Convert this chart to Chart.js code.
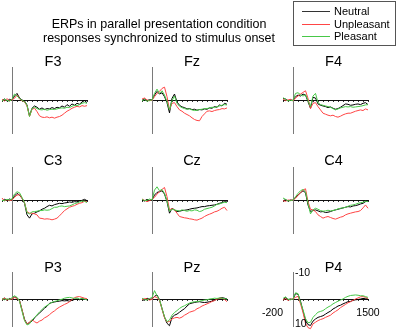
<!DOCTYPE html>
<html><head><meta charset="utf-8">
<script src="https://cdn.jsdelivr.net/npm/chart.js@4.4.0/dist/chart.umd.min.js"></script>
<style>
html,body{margin:0;padding:0;background:#fff;}
#wrap{position:relative;width:397px;height:333px;overflow:hidden;font-family:"Liberation Sans",Arial,Helvetica,sans-serif;background:#fff;}
canvas{position:absolute;left:0;top:0;}
.t{position:absolute;white-space:nowrap;color:#000;}
#title{left:0;width:318px;top:16.6px;text-align:center;font-size:12.5px;line-height:14.7px;}
#legend{position:absolute;left:293px;top:1px;width:103px;height:45px;border:1px solid #555;background:#fff;box-sizing:border-box;}
.lg{position:absolute;left:0;height:12px;width:102px;font-size:11px;line-height:12px;}
.lg span.sw{position:absolute;left:8px;top:6px;width:28px;height:0;border-top:1px solid #000;}
.lg span.tx{position:absolute;left:40px;top:0;}
.pt{font-size:14.5px;line-height:14.5px;width:80px;text-align:center;}
</style></head><body>
<div id="wrap">
<canvas id="c0" width="397" height="333"></canvas>
<canvas id="c1" width="397" height="333"></canvas>
<canvas id="c2" width="397" height="333"></canvas>
<canvas id="c3" width="397" height="333"></canvas>
<canvas id="c4" width="397" height="333"></canvas>
<canvas id="c5" width="397" height="333"></canvas>
<canvas id="c6" width="397" height="333"></canvas>
<canvas id="c7" width="397" height="333"></canvas>
<canvas id="c8" width="397" height="333"></canvas>
<div class="t" id="title">ERPs in parallel presentation condition<br>responses synchronized to stimulus onset</div>
<div id="legend"></div>
</div>
<script>
// ---- data ----
const times = [-200,-150,-100,-50,0,50,100,150,200,250,300,350,400,450,500,550,600,650,700,750,800,850,900,950,1000,1050,1100,1150,1200,1250,1300,1350,1400,1450,1500];
const conditions = ['Neutral','Unpleasant','Pleasant'];
const channels = ['F3','Fz','F4','C3','Cz','C4','P3','Pz','P4'];
const yTickLabels = [-10, 10];
const xTickLabels = [-200, 1500];

const F3_neutral = [0.2,-0.3,0.3,-0.2,0.1,-1.2,-2.0,-0.6,0.0,0.3,1.5,4.8,2.5,1.8,2.2,2.8,2.4,2.9,2.6,2.7,2.3,2.6,2.2,2.4,1.8,2.2,1.4,1.9,1.2,1.6,1.0,1.3,0.6,0.2,0.8];
const F3_unpleasant = [-0.2,0.3,-0.4,0.2,-0.1,-0.5,-1.5,-0.3,0.2,0.6,1.8,5.0,2.8,2.5,3.5,4.8,5.2,5.3,5.1,5.4,5.2,5.5,5.2,5.0,4.6,4.0,3.4,3.0,2.5,2.2,1.9,2.1,1.7,1.9,1.7];
const F3_pleasant = [0.3,-0.2,0.1,0.4,-0.2,-1.8,-1.2,-0.5,0.1,0.5,1.6,5.0,2.6,2.2,2.6,2.9,3.0,2.8,3.1,2.9,2.8,2.9,2.7,2.5,2.4,2.5,2.2,2.3,1.9,1.6,1.7,1.4,1.0,0.8,1.0];

const Fz_neutral = [0.1,-0.3,0.2,-0.1,0.0,-1.5,-2.6,-1.8,-2.2,-1.0,0.8,3.9,-0.5,-1.8,0.6,1.6,2.1,2.3,2.7,2.6,2.9,2.8,3.1,2.9,3.0,2.7,2.8,2.4,2.5,2.0,2.2,1.5,1.8,1.0,1.3];
const Fz_unpleasant = [-0.3,-0.6,0.0,0.2,0.1,-1.0,-2.0,-2.6,-3.5,-3.9,-1.0,2.9,1.0,0.8,2.0,3.0,3.4,4.0,4.4,4.8,5.4,5.9,6.2,6.3,5.0,4.2,3.4,3.3,3.5,3.2,3.0,2.9,2.6,2.7,2.4];
const Fz_pleasant = [0.3,-0.2,0.4,0.1,0.0,-2.0,-3.3,-2.0,-2.8,-1.5,0.5,3.0,0.2,-1.2,1.0,1.9,2.3,2.6,2.8,2.7,3.0,3.2,3.1,2.9,2.8,2.6,2.6,2.4,2.2,2.3,2.0,1.8,1.6,1.4,1.5];

const F4_neutral = [-0.5,-0.3,0.2,0.0,0.1,-1.0,-1.5,-1.2,-1.8,-1.5,0.5,2.5,-0.8,-0.6,1.2,1.6,1.8,2.0,2.3,2.1,2.5,2.8,2.6,2.2,1.7,1.2,1.3,1.6,1.5,1.3,1.2,1.4,1.0,0.8,1.4];
const F4_unpleasant = [-0.3,0.2,0.0,-0.2,0.3,-0.6,-1.2,-1.8,-2.3,-2.8,-0.5,2.6,1.0,0.8,2.0,3.0,4.0,4.3,4.6,4.8,4.6,5.0,5.2,4.9,4.5,4.2,4.0,4.0,3.7,3.4,3.2,3.0,3.2,2.7,3.0];
const F4_pleasant = [-0.7,-0.2,0.3,0.1,0.2,-2.0,-2.2,-1.6,-1.2,-1.6,0.2,2.0,-1.2,-2.0,0.8,1.4,1.6,1.8,2.0,2.2,2.6,3.0,2.7,2.4,2.2,2.0,2.1,2.0,2.2,2.1,2.0,1.9,1.7,1.5,1.4];

const C3_neutral = [0.3,-0.2,0.1,-0.3,0.0,-1.2,-2.0,-1.5,-0.5,1.0,4.5,5.5,4.2,4.0,3.6,3.3,2.8,2.5,2.0,1.6,1.8,1.4,1.2,1.0,1.1,0.9,0.8,0.6,0.7,0.5,0.6,0.3,0.1,-0.2,0.2];
const C3_unpleasant = [-0.6,0.3,-0.1,0.2,0.0,-0.8,-1.5,-1.6,-0.6,0.8,3.6,4.0,4.0,4.2,4.5,5.5,5.6,5.8,5.7,5.8,6.0,5.8,5.5,4.8,4.0,3.2,2.7,2.2,1.9,1.7,1.3,1.0,0.8,0.4,0.5];
const C3_pleasant = [0.1,0.2,-0.2,0.0,-0.3,-1.8,-2.5,-2.2,-0.8,0.8,3.8,4.2,3.6,3.5,3.4,3.2,3.2,3.0,3.1,3.0,2.6,2.2,2.2,1.9,1.8,2.0,1.9,1.8,1.5,1.1,0.9,0.6,0.3,0.4,0.8];

const Cz_neutral = [0.0,0.3,-0.2,0.1,0.0,-1.5,-2.3,-2.5,-2.8,-1.8,0.5,4.0,2.5,3.0,3.5,3.4,3.2,3.1,3.0,2.8,2.6,2.5,2.4,2.2,2.0,2.0,1.8,1.7,1.6,1.5,1.3,1.0,0.8,0.5,0.6];
const Cz_unpleasant = [-0.3,0.1,0.5,0.2,-0.2,-0.8,-1.8,-2.5,-3.2,-3.8,-1.0,3.0,2.6,3.0,4.0,5.0,5.2,5.4,5.5,5.7,5.8,6.0,6.1,5.8,5.5,5.0,4.6,4.3,4.0,3.6,3.4,3.0,2.5,2.2,3.2];
const Cz_pleasant = [-0.2,0.2,0.1,-0.3,0.0,-3.0,-4.0,-2.8,-3.2,-2.0,0.3,3.4,2.8,3.0,3.2,3.3,3.0,3.2,3.4,3.2,3.3,3.0,3.1,3.5,3.3,2.8,2.6,2.4,2.2,1.8,1.3,1.2,0.9,0.7,0.8];

const C4_neutral = [0.2,-0.1,0.3,0.0,0.1,-0.8,-1.5,-2.2,-2.8,-2.2,1.5,3.5,3.2,3.0,3.3,3.6,3.5,3.8,3.7,3.5,3.2,3.0,2.8,2.6,2.4,2.2,2.0,2.1,1.8,1.7,1.5,1.2,1.0,0.5,0.3];
const C4_unpleasant = [0.2,0.4,0.0,0.1,0.0,-0.5,-1.4,-2.2,-3.0,-3.4,0.5,2.8,3.0,3.5,4.5,5.0,5.5,5.2,5.0,5.3,5.6,5.8,5.5,5.2,5.0,4.5,4.2,4.0,3.8,3.6,3.5,3.2,2.4,1.5,2.5];
const C4_pleasant = [-0.6,-0.2,0.3,0.2,0.0,-1.0,-2.0,-2.8,-3.2,-2.5,1.0,4.2,3.0,2.5,2.8,3.2,3.4,3.3,3.1,3.3,3.2,3.0,2.7,2.5,2.4,2.2,1.9,1.6,1.5,1.3,1.0,0.8,0.7,0.4,0.5];

const P3_neutral = [0.3,-0.4,0.6,-0.2,0.2,-0.8,-0.4,0.5,4.0,7.5,9.2,8.8,8.2,7.0,6.0,5.2,4.3,3.4,2.7,1.6,1.3,1.1,0.9,0.8,0.6,0.7,0.6,0.8,0.5,0.2,0.0,0.3,-0.1,0.1,0.2];
const P3_unpleasant = [0.2,-0.3,0.4,0.1,0.0,-0.6,-0.2,0.6,4.0,7.8,9.3,8.6,7.6,8.4,8.9,8.2,7.8,7.0,6.5,5.8,5.0,4.4,3.6,3.0,2.5,2.0,1.6,1.0,0.2,-0.5,-0.8,-0.9,-0.6,-0.3,-0.1];
const P3_pleasant = [-0.2,0.3,-0.1,0.2,-0.5,-1.2,-0.6,0.8,4.5,8.0,9.6,9.2,7.8,6.8,5.9,4.8,3.9,3.0,2.4,1.8,1.2,0.9,0.7,0.3,0.1,-0.3,-0.5,-0.6,-0.4,-0.2,-0.4,0.0,-0.2,0.1,0.3];

const Pz_neutral = [0.2,0.5,-0.3,0.1,0.0,-1.0,-1.5,0.3,3.5,6.8,9.0,9.9,6.8,6.0,5.6,4.9,4.2,3.6,2.6,1.8,1.5,1.3,1.1,1.0,1.2,1.3,1.2,1.0,0.8,0.5,0.0,-0.3,-0.5,-0.3,0.0];
const Pz_unpleasant = [0.3,-0.2,0.0,0.4,0.1,-0.8,-0.6,0.5,3.8,6.9,8.5,8.3,7.4,7.0,6.8,7.1,6.7,6.0,5.5,4.9,4.6,4.3,3.6,3.2,2.6,2.2,1.8,1.4,0.9,0.6,0.0,-0.2,-0.3,0.2,1.0];
const Pz_pleasant = [-0.3,0.2,0.4,-0.2,-0.5,-3.1,-1.2,0.2,3.6,6.5,8.4,7.8,6.0,5.0,4.3,3.5,2.9,2.5,2.0,1.5,1.2,1.0,1.0,0.8,0.6,0.4,0.3,0.0,-0.1,-0.3,-0.2,-0.4,-0.3,-0.1,0.0];

const P4_neutral = [0.3,-0.5,0.2,0.0,0.2,-2.0,-1.8,0.8,4.5,8.0,9.5,9.8,8.2,7.4,6.8,6.5,6.2,5.6,5.0,4.5,3.7,3.2,2.6,2.3,1.8,1.4,1.0,0.9,0.5,0.3,0.2,0.0,-0.2,-0.1,0.0];
const P4_unpleasant = [0.4,-0.2,0.5,0.1,0.0,-0.6,-1.0,1.8,5.0,9.0,10.6,11.0,9.2,8.6,8.0,7.6,7.3,6.8,6.4,6.0,5.2,4.6,4.0,3.2,2.6,2.0,1.4,1.0,0.5,0.0,-0.4,-0.8,-0.9,-0.6,-0.2];
const P4_pleasant = [-0.2,-0.8,0.1,0.3,0.0,-2.3,-2.0,1.2,4.0,7.2,8.8,8.6,6.8,5.8,4.9,4.6,4.3,3.6,3.0,2.5,1.8,1.3,0.8,0.4,0.0,-0.6,-1.0,-1.3,-1.4,-1.5,-1.4,-1.2,-1.2,-0.9,-0.6];

const channelData = {
  F3: [F3_neutral, F3_unpleasant, F3_pleasant],
  Fz: [Fz_neutral, Fz_unpleasant, Fz_pleasant],
  F4: [F4_neutral, F4_unpleasant, F4_pleasant],
  C3: [C3_neutral, C3_unpleasant, C3_pleasant],
  Cz: [Cz_neutral, Cz_unpleasant, Cz_pleasant],
  C4: [C4_neutral, C4_unpleasant, C4_pleasant],
  P3: [P3_neutral, P3_unpleasant, P3_pleasant],
  Pz: [Pz_neutral, Pz_unpleasant, Pz_pleasant],
  P4: [P4_neutral, P4_unpleasant, P4_pleasant]
};

// ---- layout / style ----
const W = 397, H = 333;
const colLeft = [2, 142, 283];
const colRight = [87, 227, 368];
const colTitleX = [53, 192, 333.5];
const rowTop = [67, 167, 272];
const rowBottom = [133, 233, 326];
const rowTitleCap = [61.5, 160, 267];
const lineColors = ['#000000', '#ff4545', '#48c848'];
const drawOrder = [2, 1, 0];
const FONT = '"Liberation Sans", Arial, Helvetica, sans-serif';

// legend
const legendEl = document.getElementById('legend');
conditions.forEach((name, i) => {
  const row = document.createElement('div');
  row.className = 'lg';
  row.style.top = (3 + i * 12.5) + 'px';
  row.innerHTML = '<span class="sw" style="border-top-color:' + (i === 0 ? '#333' : lineColors[i]) + '"></span><span class="tx">' + name + '</span>';
  legendEl.appendChild(row);
});

const tickLabelPlugin = {
  id: 'p4labels',
  afterDraw(chart) {
    const ctx = chart.ctx;
    const xs = chart.scales.x, ys = chart.scales.y;
    ctx.save();
    ctx.font = '10.5px ' + FONT;
    ctx.fillStyle = '#000';
    ctx.textBaseline = 'middle';
    ctx.textAlign = 'left';
    const x0 = xs.getPixelForValue(0);
    ctx.fillText(String(yTickLabels[0]), x0 + 2, ys.getPixelForValue(yTickLabels[0]) + 1);
    ctx.fillText(String(yTickLabels[1]), x0 + 2, ys.getPixelForValue(yTickLabels[1]) - 2);
    const yl = ys.getPixelForValue(0) + 14;
    ctx.textAlign = 'right';
    ctx.fillText(String(xTickLabels[0]), xs.getPixelForValue(xTickLabels[0]), yl);
    ctx.textAlign = 'center';
    ctx.fillText(String(xTickLabels[1]), xs.getPixelForValue(xTickLabels[1]), yl);
    ctx.restore();
  }
};

channels.forEach((ch, idx) => {
  const r = Math.floor(idx / 3), c = idx % 3;
  // panel title
  const t = document.createElement('div');
  t.className = 't pt';
  t.textContent = ch;
  t.style.left = (colTitleX[c] - 40) + 'px';
  t.style.top = (rowTitleCap[r] - 0.49 * 14.5) + 'px';
  document.getElementById('wrap').appendChild(t);

  const datasets = conditions.map((name, i) => ({
    label: name,
    data: times.map((tm, k) => ({x: tm, y: channelData[ch][i][k]})),
    borderColor: lineColors[i],
    borderWidth: 1,
    pointRadius: 0,
    tension: 0,
    fill: false,
    clip: false,
    order: drawOrder[i]
  }));

  new Chart(document.getElementById('c' + idx), {
    type: 'line',
    data: {datasets},
    options: {
      responsive: false,
      animation: false,
      devicePixelRatio: 1,
      layout: {padding: {left: colLeft[c], right: W - colRight[c], top: rowTop[r], bottom: H - rowBottom[r]}},
      plugins: {legend: {display: false}, tooltip: {enabled: false}, title: {display: false}},
      scales: {
        x: {
          type: 'linear', min: -200, max: 1500, position: {y: 0},
          ticks: {display: false, stepSize: 100},
          grid: {display: true, drawOnChartArea: false, drawTicks: true, tickLength: 1, color: '#333', lineWidth: 1},
          border: {display: true, color: '#111', width: 1}
        },
        y: {
          type: 'linear', min: -10, max: 10, reverse: true, position: {x: 0},
          ticks: {display: false},
          grid: {display: false},
          border: {display: true, color: '#7a7a7a', width: 1}
        }
      }
    },
    plugins: ch === 'P4' ? [tickLabelPlugin] : []
  });
});
</script>
</body></html>
